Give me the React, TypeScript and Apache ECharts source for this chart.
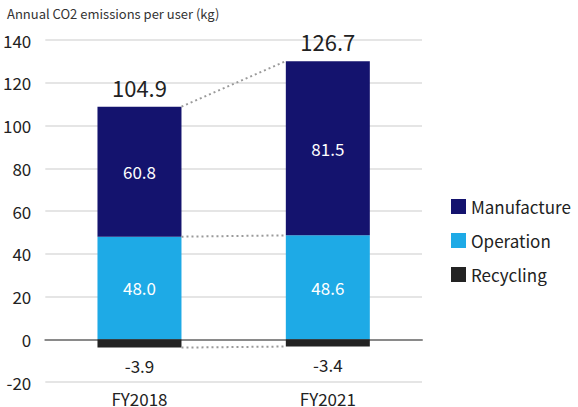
import React, { useEffect, useRef } from "react";
import * as echarts from "echarts";

const categories = ["FY2018", "FY2021"];
const manufacture = [60.8, 81.5];
const operation = [48.0, 48.6];
const recycling = [-3.9, -3.4];
const totals = [104.9, 126.7];
const yTicks = { min: -20, max: 140, interval: 20 };

const FONT = "'Noto Sans CJK JP', 'Noto Sans', sans-serif";
const BAR_W = 84;

export default function App() {
  const ref = useRef<HTMLDivElement>(null);
  useEffect(() => {
    const chart = echarts.init(ref.current!, null, { renderer: "svg" });
    chart.setOption({
      animation: false,
      textStyle: { fontFamily: FONT },
      title: {
        text: "Annual CO2 emissions per user (kg)",
        left: 2,
        top: 2,
        textStyle: { fontSize: 13, fontWeight: "normal", color: "#333", fontFamily: FONT },
      },
      grid: { left: 44, right: 156, top: 40, bottom: 21 },
      legend: {
        orient: "vertical",
        left: 446,
        top: 193,
        icon: "rect",
        itemWidth: 15,
        itemHeight: 15,
        itemGap: 17,
        data: ["Manufacture", "Operation", "Recycling"],
        textStyle: { fontSize: 17, color: "#222", fontFamily: FONT },
      },
      xAxis: {
        type: "category",
        data: categories,
        axisTick: { show: false },
        axisLine: { onZero: true, lineStyle: { color: "#8a8a8a", width: 2 } },
        axisLabel: { fontSize: 17, color: "#222", margin: 8 },
      },
      yAxis: {
        type: "value",
        min: yTicks.min,
        max: yTicks.max,
        interval: yTicks.interval,
        axisLabel: { fontSize: 17, color: "#222", margin: 14 },
        splitLine: { lineStyle: { color: "#dcdcdc", width: 1.5 } },
        axisLine: { show: false },
        axisTick: { show: false },
      },
      series: [
        {
          name: "Operation",
          type: "bar",
          stack: "pos",
          barWidth: BAR_W,
          data: operation,
          itemStyle: { color: "#1eaae6" },
          label: { show: true, position: "inside", color: "#fff", fontSize: 17, formatter: (p: any) => p.value.toFixed(1) },
        },
        {
          name: "Manufacture",
          type: "bar",
          stack: "pos",
          barWidth: BAR_W,
          data: manufacture,
          itemStyle: { color: "#14136e" },
          label: { show: true, position: "inside", color: "#fff", fontSize: 17, formatter: (p: any) => p.value.toFixed(1) },
        },
        {
          name: "Total",
          type: "bar",
          stack: "pos",
          barWidth: BAR_W,
          data: [0, 0],
          itemStyle: { color: "transparent" },
          label: {
            show: true,
            position: "top",
            distance: 9,
            color: "#222",
            fontSize: 22,
            formatter: (p: any) => totals[p.dataIndex].toFixed(1),
          },
        },
        {
          name: "Recycling",
          type: "bar",
          stack: "neg",
          barWidth: BAR_W,
          barGap: "-100%",
          data: recycling,
          itemStyle: { color: "#232323" },
          label: { show: true, position: "bottom", distance: 9, color: "#222", fontSize: 17, formatter: (p: any) => p.value.toFixed(1) },
        },
        {
          name: "connectors",
          type: "custom",
          data: [[0, 1]],
          z: 5,
          renderItem: (_params: any, api: any) => {
            const half = BAR_W / 2;
            const levels = [
              [operation[0] + manufacture[0], operation[1] + manufacture[1]],
              [operation[0], operation[1]],
              [recycling[0], recycling[1]],
            ];
            const children = levels.map((lv) => {
              const a = api.coord([0, lv[0]]);
              const b = api.coord([1, lv[1]]);
              return {
                type: "line",
                shape: { x1: a[0] + half, y1: a[1], x2: b[0] - half, y2: b[1] },
                style: { stroke: "#9a9a9a", lineWidth: 2, lineDash: [2, 3] },
              };
            });
            return { type: "group", children };
          },
        },
      ],
    });
    return () => chart.dispose();
  }, []);
  return <div ref={ref} style={{ width: 578, height: 407, position: "absolute", left: 0, top: 0 }} />;
}
